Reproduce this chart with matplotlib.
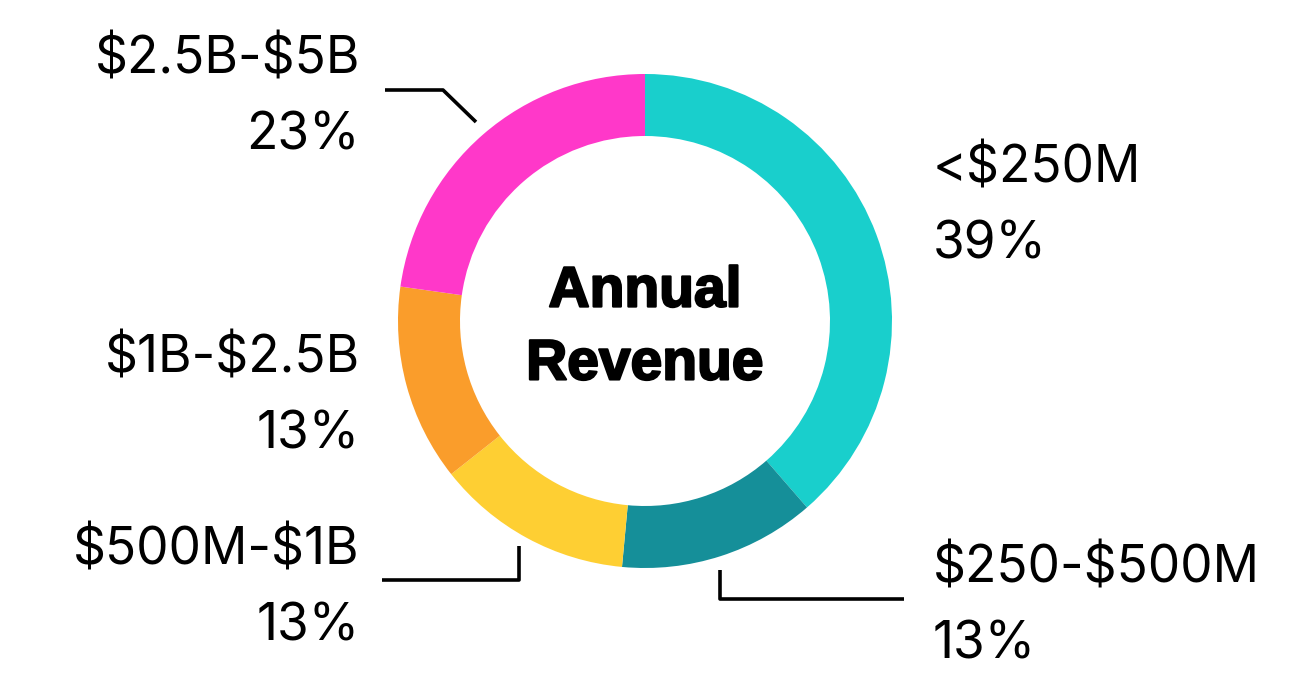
import matplotlib
matplotlib.use("Agg")
import matplotlib.pyplot as plt
import matplotlib.patheffects as pe

plt.rcParams["text.parse_math"] = False

categories = ["<$250M", "$250-$500M", "$500M-$1B", "$1B-$2.5B", "$2.5B-$5B"]
shares = [39, 13, 13, 13, 23]
colors = ["#19CFCC", "#158F99", "#FECF33", "#FA9D2B", "#FF38C9"]
center_title = "Annual\nRevenue"

W, H = 1294, 698
fig = plt.figure(figsize=(W / 100, H / 100), dpi=100)
ax = fig.add_axes([0, 0, 1, 1])

cx, cy, R = 645, 321, 247
# y axis is inverted below, so startangle=-90 / counterclock=True draws
# clockwise from 12 o'clock on screen
ax.pie(shares, colors=colors, startangle=-90, counterclock=True,
       center=(cx, cy), radius=R, frame=True,
       wedgeprops=dict(width=62, linewidth=0))
ax.set_xlim(0, W)
ax.set_ylim(H, 0)
ax.set_aspect("equal")
ax.axis("off")

ax.text(cx, 328, center_title, ha="center", va="center", fontsize=41,
        fontweight="bold", family=["Liberation Sans", "DejaVu Sans"],
        linespacing=1.45, color="black",
        path_effects=[pe.withStroke(linewidth=1.6, foreground="black")])

lab_font = dict(fontsize=37, family=["Inter", "DejaVu Sans"], color="black",
                linespacing=1.72)

pct = [f"{v}%" for v in shares]
places = {
    0: (933, 207, "left"),
    1: (933, 607, "left"),
    2: (360, 589, "right"),
    3: (360, 397, "right"),
    4: (360, 98, "right"),
}
for i, (x, y, ha) in places.items():
    ax.text(x, y, f"{categories[i]}\n{pct[i]}", ha=ha, va="center", **lab_font)

lw = 2.6
ax.plot([385, 443, 476], [90, 90, 122], color="black", lw=lw, solid_capstyle="butt")
ax.plot([382, 519, 519], [580, 580, 546], color="black", lw=lw, solid_capstyle="butt")
ax.plot([720, 720, 904], [570, 599, 599], color="black", lw=lw, solid_capstyle="butt")

fig.savefig("out.png", dpi=100, facecolor="white")
